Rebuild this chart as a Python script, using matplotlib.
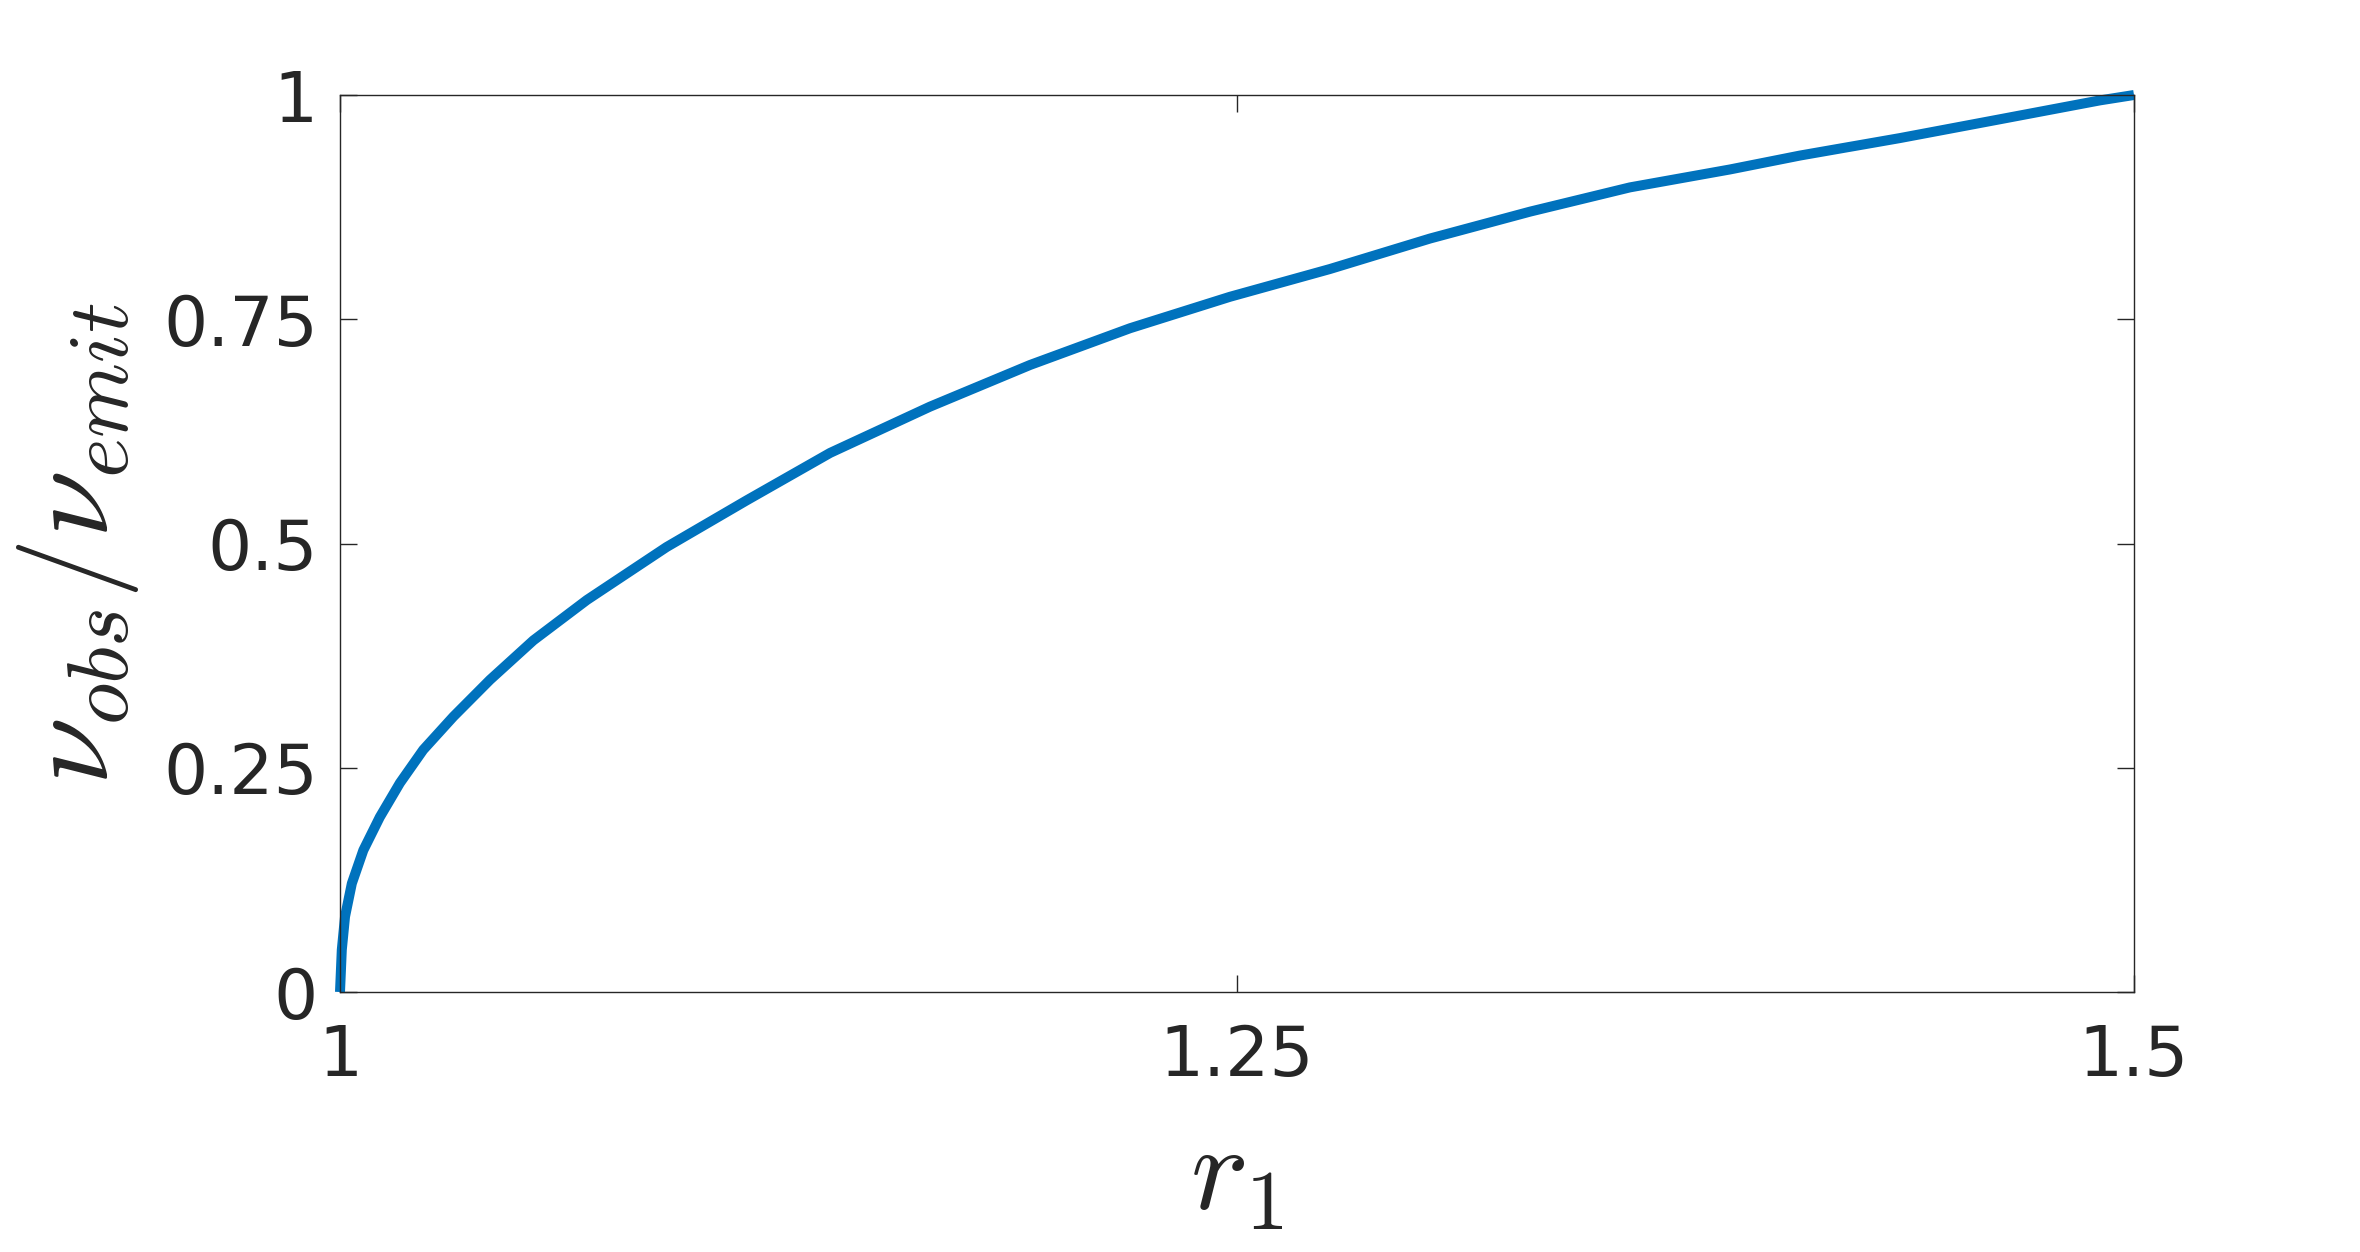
import numpy as np
from matplotlib import pyplot as plt

# === dados ===
r1 = [1.0, 1.0005, 1.0014, 1.0033, 1.0065, 1.0111, 1.0167, 1.0232, 1.0316, 1.0418,
      1.0539, 1.0688, 1.091, 1.1133, 1.1366, 1.1644, 1.1923, 1.2202, 1.248, 1.2759,
      1.3038, 1.3317, 1.3595, 1.3874, 1.4069, 1.4348, 1.4627, 1.4905, 1.5]
razao = [0.0, 0.047, 0.084, 0.121, 0.158, 0.195, 0.233, 0.270, 0.307, 0.348,
         0.392, 0.437, 0.496, 0.548, 0.601, 0.6525, 0.699, 0.740, 0.775, 0.806,
         0.840, 0.870, 0.897, 0.917, 0.9325, 0.952, 0.973, 0.994, 1.0]

xticks = [1, 1.25, 1.5]
xticklabels = ["1", "1.25", "1.5"]
yticks = [0, 0.25, 0.5, 0.75, 1]
yticklabels = ["0", "0.25", "0.5", "0.75", "1"]

cor_eixo = "#262626"
plt.rcParams['mathtext.fontset'] = 'cm'
plt.rcParams['font.family'] = 'DejaVu Sans'

# === grafico ===
fig = plt.figure(figsize=(11.8, 6.26), dpi=200)
ax = fig.add_axes([340 / 2360, 1 - 992 / 1252, (2134 - 340) / 2360, (992 - 95) / 1252])
ax.plot(r1, razao, color="#0072BD", linewidth=3.6, clip_on=False, solid_capstyle='butt')
ax.set_xlim(1, 1.5)
ax.set_ylim(0, 1)
ax.set_xticks(xticks)
ax.set_xticklabels(xticklabels)
ax.set_yticks(yticks)
ax.set_yticklabels(yticklabels)
ax.tick_params(direction='in', length=6, width=0.5, colors=cor_eixo, labelsize=25,
               top=True, right=True)
ax.tick_params(axis='x', pad=11)
ax.tick_params(axis='y', pad=8)
for s in ax.spines.values():
    s.set_color(cor_eixo)
    s.set_linewidth(0.5)
ax.set_xlabel(r'$r_1$', fontsize=44, color=cor_eixo, labelpad=10)
ax.set_ylabel(r'$\nu_{obs}/\nu_{emit}$', fontsize=44, color=cor_eixo, labelpad=8)
fig.savefig("out.png", dpi=200)
